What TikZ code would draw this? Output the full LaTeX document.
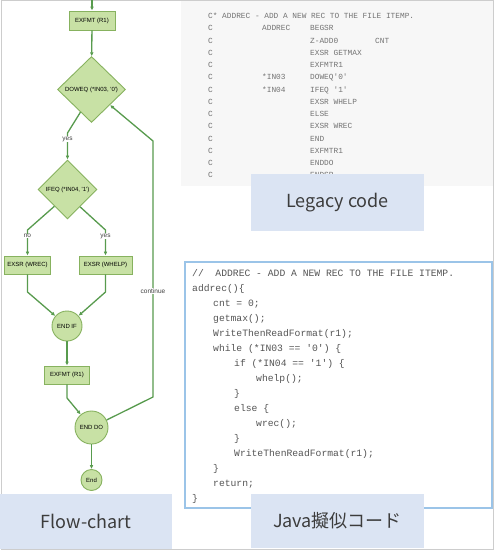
\documentclass[tikz,border=0pt]{standalone}
\usepackage{fontspec}
\setmainfont{Liberation Sans}
\newfontfamily\codefont{Liberation Mono}
\newfontfamily\jpfont{Noto Sans CJK JP}
\usetikzlibrary{shapes.geometric,arrows.meta}

\definecolor{flowfill}{RGB}{200,225,165}
\definecolor{flowdraw}{RGB}{135,178,95}
\definecolor{flowline}{RGB}{88,155,78}
\definecolor{labelbg}{RGB}{219,228,243}
\definecolor{labeltext}{RGB}{60,60,60}
\definecolor{legacybg}{RGB}{247,247,247}
\definecolor{javaborder}{RGB}{155,196,232}
\definecolor{framegray}{RGB}{205,205,205}
\definecolor{legacytext}{RGB}{115,115,115}
\definecolor{javatext}{RGB}{85,85,85}

\newcommand\lgrow[4]{\makebox[54pt][l]{#1}\makebox[48pt][l]{#2}\makebox[65pt][l]{#3}#4}
\newcommand\sq{\textquotesingle}

\begin{document}
\begin{tikzpicture}[x=1pt,y=-1pt,
  fbox/.style={rectangle, draw=flowdraw, fill=flowfill, line width=0.9pt, inner sep=0pt, font=\fontsize{6}{7}\selectfont},
  fdia/.style={diamond, aspect=1, draw=flowdraw, fill=flowfill, line width=0.9pt, inner sep=0pt, font=\fontsize{6}{7}\selectfont},
  fcirc/.style={circle, draw=flowdraw, fill=flowfill, line width=0.9pt, inner sep=0pt, font=\fontsize{6}{7}\selectfont},
  edge/.style={draw=flowline, line width=1.3pt, -{Latex[length=4pt,width=3.8pt]}},
  elabel/.style={fill=white, inner sep=0.6pt, font=\fontsize{6.5}{7}\selectfont, text=black!75},
  lg/.style={anchor=base west, inner sep=0pt, text=legacytext, font=\codefont\fontsize{7.8}{8}\selectfont},
  jv/.style={anchor=base west, inner sep=0pt, text=javatext, font=\codefont\fontsize{9.7}{10}\selectfont},
  lblbox/.style={rectangle, fill=labelbg, inner sep=0pt, text=labeltext, font=\jpfont\fontsize{18}{20}\selectfont}
]
\useasboundingbox (0,0) rectangle (495,551);
\fill[white] (0,0) rectangle (495,551);

% outer frame
\draw[framegray, line width=1pt] (1,0.5) rectangle (493.5,549.5);

% ---------- legacy code panel ----------
\fill[legacybg] (181,1.2) rectangle (492.8,186);
\node[lg] (lg0) at (208,18.7) {C* ADDREC - ADD A NEW REC TO THE FILE ITEMP.};
\node[lg] (lg1) at (208,30.95) {\lgrow{C}{ADDREC}{BEGSR}{}};
\node[lg] (lg2) at (208,43.2) {\lgrow{C}{}{Z-ADD0}{CNT}};
\node[lg] (lg3) at (208,55.45) {\lgrow{C}{}{EXSR GETMAX}{}};
\node[lg] (lg4) at (208,67.7) {\lgrow{C}{}{EXFMTR1}{}};
\node[lg] (lg5) at (208,79.95) {\lgrow{C}{*IN03}{DOWEQ\sq 0\sq}{}};
\node[lg] (lg6) at (208,92.2) {\lgrow{C}{*IN04}{IFEQ \sq 1\sq}{}};
\node[lg] (lg7) at (208,104.45) {\lgrow{C}{}{EXSR WHELP}{}};
\node[lg] (lg8) at (208,116.7) {\lgrow{C}{}{ELSE}{}};
\node[lg] (lg9) at (208,128.95) {\lgrow{C}{}{EXSR WREC}{}};
\node[lg] (lg10) at (208,141.2) {\lgrow{C}{}{END}{}};
\node[lg] (lg11) at (208,153.45) {\lgrow{C}{}{EXFMTR1}{}};
\node[lg] (lg12) at (208,165.7) {\lgrow{C}{}{ENDDO}{}};
\node[lg] (lg13) at (208,177.95) {\lgrow{C}{}{ENDSR}{}};
\node[lblbox, minimum width=173, minimum height=57] (leglbl) at (337.5,202.5) {Legacy code};

% ---------- Java panel ----------
\draw[javaborder, line width=2pt, fill=white] (185,262) rectangle (491.5,508);
\node[jv] (jv0) at (192,276.3) {//~~ADDREC - ADD A NEW REC TO THE FILE ITEMP.};
\node[jv] (jv1) at (192,291.3) {addrec()\{};
\node[jv] (jv2) at (213,306.3) {cnt = 0;};
\node[jv] (jv3) at (213,321.3) {getmax();};
\node[jv] (jv4) at (213,336.3) {WriteThenReadFormat(r1);};
\node[jv] (jv5) at (213,351.3) {while (*IN03 == \sq 0\sq) \{};
\node[jv] (jv6) at (234,366.3) {if (*IN04 == \sq 1\sq) \{};
\node[jv] (jv7) at (256,381.3) {whelp();};
\node[jv] (jv8) at (234,396.3) {\}};
\node[jv] (jv9) at (234,411.3) {else \{};
\node[jv] (jv10) at (256,426.3) {wrec();};
\node[jv] (jv11) at (234,441.3) {\}};
\node[jv] (jv12) at (234,456.3) {WriteThenReadFormat(r1);};
\node[jv] (jv13) at (213,471.3) {\}};
\node[jv] (jv14) at (213,486.3) {return;};
\node[jv] (jv15) at (192,501.3) {\}};
\node[lblbox, minimum width=173, minimum height=54] (javalbl) at (337.5,521) {Java擬似コード};

% ---------- flow chart ----------
\coordinate (top) at (92,0);
\node[fbox, minimum width=46, minimum height=19] (x1) at (92,20.5) {EXFMT (R1)};
\node[fdia, minimum width=68, minimum height=66] (d1) at (91.5,89.5) {DOWEQ (*IN03, \sq 0\sq)};
\node[fdia, minimum width=59, minimum height=59] (d2) at (67.5,189.5) {IFEQ (*IN04, \sq 1\sq)};
\node[fbox, minimum width=46, minimum height=18] (wrec) at (27.5,265) {EXSR (WREC)};
\node[fbox, minimum width=53, minimum height=18] (whelp) at (105.5,265) {EXSR (WHELP)};
\node[fcirc, minimum size=30] (endif) at (67,326) {END IF};
\node[fbox, minimum width=45, minimum height=18] (x2) at (67,375) {EXFMT (R1)};
\node[fcirc, minimum size=33] (enddo) at (91.5,427.5) {END DO};
\node[fcirc, minimum size=21] (end) at (91.5,480) {End};

\coordinate (b1) at (67.5,133);
\coordinate (b2) at (27.5,230);
\coordinate (b3) at (105.5,230);
\coordinate (b4) at (27.5,292);
\coordinate (b5) at (105.5,292);
\coordinate (b6) at (67,398);
\coordinate (c1) at (153,397);
\coordinate (c2) at (153,141);

\draw[edge] (top) -- (x1);
\draw[edge] (x1) -- (d1);
\draw[edge] (d1.244) -- (b1) -- (d2.north);
\draw[edge] (d2.232) -- (b2) -- (wrec.north);
\draw[edge] (d2.306) -- (b3) -- (whelp.north);
\draw[edge] (wrec.south) -- (b4) -- (endif);
\draw[edge] (whelp.south) -- (b5) -- (endif);
\draw[edge] (endif) -- (x2);
\draw[edge] (x2.south) -- (b6) -- (enddo);
\draw[edge] (enddo) -- (end);
\draw[edge] (enddo) -- (c1) -- (c2) -- (d1);

\node[elabel] (lyes1) at (67.5,139) {yes};
\node[elabel] (lno) at (27.5,236) {no};
\node[elabel] (lyes2) at (105.5,236) {yes};
\node[elabel] (lcont) at (153,291) {continue};

\node[lblbox, minimum width=172, minimum height=55] (flowlbl) at (86,521.5) {Flow-chart};
\end{tikzpicture}
\end{document}
